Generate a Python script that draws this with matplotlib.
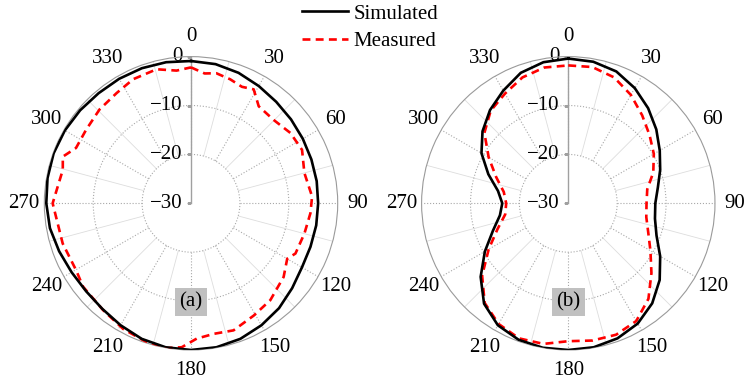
import matplotlib.pyplot as plt
import numpy as np
from matplotlib.lines import Line2D

plt.rcParams['font.family'] = ['Liberation Serif', 'DejaVu Serif']

# angles every 10 degrees for the simulated curves
sim_ang = list(range(0, 360, 10))

# (a) simulated gain (dB)
sim_a_db = [-0.9, -1.1, -1.6, -2.3, -2.9, -3.3, -3.6, -3.8, -3.9, -4.0, -4.0, -4.0,
            -3.8, -3.0, -2.0, -1.2, -0.5, -0.1, 0.0, -0.1, -0.5, -1.2, -1.8, -2.0,
            -1.8, -1.3, -0.7, -0.4, -0.2, -0.1, -0.2, -0.4, -0.6, -0.6, -0.6, -0.7]

# (a) measured
meas_a_ang = [0, 6, 11, 17.5, 23.6, 28.8, 34.9, 44.6, 54.7, 64.3, 75, 86.8, 94.8, 104.9,
              115.7, 119.9, 128.5, 140.7, 150.8, 161.5, 170, 177.6, 183.7, 189.5, 197.8,
              208.4, 219.4, 232.3, 239.7, 252.6, 270, 284.6, 290, 295.7, 305, 315.7, 326,
              335, 345.6, 353.8]
meas_a_db = [-2.2, -3.3, -2.9, -3.4, -4.0, -3.4, -5.8, -6.0, -5.1, -4.8, -6.0, -5.2, -5.5, -6.0,
             -6.3, -7.3, -5.8, -4.4, -3.7, -2.6, -2.9, -2.3, -0.5, 0.0, -0.2,
             -0.8, -1.7, -2.1, -2.8, -2.5, -1.7, -2.9, -2.1, -3.9, -3.8, -3.2, -2.8,
             -2.0, -1.7, -2.7]

# (b) simulated
sim_b_db = [-0.4, -0.6, -1.3, -2.8, -4.6, -6.5, -8.4, -10.0, -11.4, -12.2, -12.0, -10.8,
            -8.3, -5.6, -3.3, -1.6, -0.6, -0.1, 0.0, 0.0, -0.3, -1.2, -3.2, -6.6,
            -10.3, -13.6, -15.8, -16.5, -15.4, -12.6, -9.5, -7.1, -5.1, -3.4, -1.6, -0.7]

# (b) measured
meas_b_ang = list(range(0, 360, 10))
meas_b_db = [-1.8, -1.7, -2.6, -4.4, -6.5, -8.3, -9.8, -11.5, -13.6, -14.0, -13.8, -12.6,
             -10.6, -7.8, -4.5, -2.2, -1.4, -1.5, -1.8, -0.8, -0.6, -1.5, -3.4, -7.0,
             -11.2, -14.6, -16.9, -17.3, -16.6, -14.3, -11.2, -7.6, -5.3, -4.1, -2.6, -1.8]

r_ticks = [-30, -20, -10, 0]
theta_ticks = np.arange(0, 360, 30)
panels = ['(a)', '(b)']
fs = 15

fig = plt.figure(figsize=(7.45, 3.82), dpi=100)
ax_a = fig.add_axes([0.0595, 0.0838, 0.3938, 0.768], projection='polar')
ax_b = fig.add_axes([0.5659, 0.0838, 0.3938, 0.768], projection='polar')


def closed(ang, db):
    t = np.deg2rad(list(ang) + [ang[0]])
    return t, list(db) + [db[0]]


for ax, (sa, sd), (ma, md), tag in [(ax_a, (sim_ang, sim_a_db), (meas_a_ang, meas_a_db), panels[0]),
                                    (ax_b, (sim_ang, sim_b_db), (meas_b_ang, meas_b_db), panels[1])]:
    ax.set_theta_zero_location('N')
    ax.set_theta_direction(-1)
    ax.set_ylim(-30, 0)

    # grid circles
    ax.set_yticks([-20, -10])
    ax.set_yticklabels([])
    ax.yaxis.grid(True, linestyle=':', color='#a8a8a8', linewidth=0.8)
    ax.xaxis.grid(False)
    ax.spines['polar'].set_color('#9a9a9a')
    ax.spines['polar'].set_linewidth(0.8)

    # spokes from the -20 ring outwards
    for a in range(0, 360, 15):
        if a % 30 == 0:
            ax.plot([np.deg2rad(a)] * 2, [-20, 0], color='#a8a8a8', ls=':', lw=0.8, zorder=1)
        else:
            ax.plot([np.deg2rad(a)] * 2, [-20, 0], color='#dddddd', ls='-', lw=0.6, zorder=1)

    ax.set_xticks(np.deg2rad(theta_ticks))
    ax.set_xticklabels([str(t) for t in theta_ticks])
    ax.tick_params(axis='x', pad=4, labelsize=fs)

    # radial axis on the 0 direction
    ax.plot([0, 0], [-30, 0], color='#a0a0a0', lw=1.0, zorder=2)
    ax.plot([0] * len(r_ticks), r_ticks, ls='none', marker=0, ms=3, color='#a0a0a0', zorder=2)
    for r in r_ticks:
        ax.annotate(str(r).replace('-', '\u2212'), (0, r), xytext=(-6, 0), textcoords='offset points',
                    ha='right', va='center', fontsize=fs, zorder=2)

    t, d = closed(sa, sd)
    ax.plot(t, d, color='black', lw=1.9, zorder=4)
    t, d = closed(ma, md)
    ax.plot(t, d, color='#ff0000', lw=1.9, ls=(0, (3, 2)), zorder=3)

    ax.text(0.5, 0.1636, tag, transform=ax.transAxes, ha='center', va='center', fontsize=fs,
            bbox=dict(boxstyle='square,pad=0.2', fc='#c0c0c0', ec='none'), zorder=5)

handles = [Line2D([], [], color='black', lw=1.9),
           Line2D([], [], color='#ff0000', lw=1.9, ls=(0, (3, 2)))]
fig.legend(handles, ['Simulated', 'Measured'], loc='upper left', bbox_to_anchor=(0.402, 0.995),
           frameon=False, fontsize=fs, handlelength=2.25, handletextpad=0.25,
           labelspacing=0.4, borderpad=0.1, borderaxespad=0)

fig.savefig('out.png', dpi=100)
